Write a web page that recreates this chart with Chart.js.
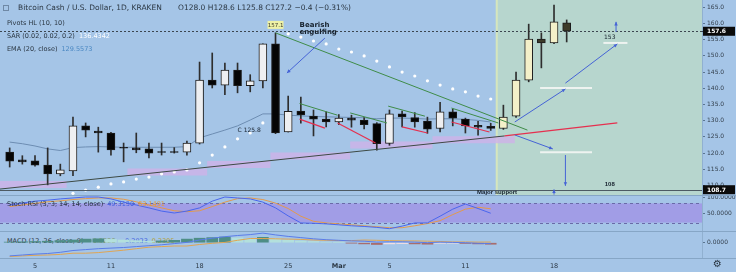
<!DOCTYPE html>
<html>
<head>
<meta charset="utf-8">
<script src="https://cdn.jsdelivr.net/npm/chart.js@4.4.1/dist/chart.umd.min.js"></script>
<style>
  html, body { margin: 0; padding: 0; background: #a5c5e7; }
  #wrap { position: relative; width: 736px; height: 272px; overflow: hidden; background: #a5c5e7; font-family: "DejaVu Sans", sans-serif; }
  canvas { position: absolute; left: 0; z-index: 1; }
  .t { position: absolute; white-space: nowrap; font-size: 6.5px; line-height: 8px; color: #2a3642; z-index: 2; }
  .t span { margin-left: 4px; }
  .sep { position: absolute; left: 0; width: 736px; height: 1px; background: #86a6c6; z-index: 3; }
</style>
</head>
<body>
<div id="wrap">
  <div class="t" style="left:7px;top:237px;z-index:0">MACD (12, 26, close, 9)<span style="color:#7c9a6c">−0.5228</span><span style="color:#4161e0">−0.2923</span><span style="color:#b3a030">0.2305</span></div>
  <canvas id="main" width="736" height="195" style="top:0"></canvas>
  <canvas id="stoch" width="736" height="36" style="top:195px"></canvas>
  <canvas id="macd" width="736" height="41" style="top:231px"></canvas>

  <div style="position:absolute;left:3px;top:5px;width:4px;height:4px;border:1px solid #6f89a6;z-index:2"></div>
  <div class="t" style="left:18px;top:4px;font-size:7.5px">Bitcoin Cash / U.S. Dollar, 1D, KRAKEN</div>
  <div class="t" style="left:178px;top:4px;font-size:7.5px">O128.0 H128.6 L125.8 C127.2 −0.4 (−0.31%)</div>
  <div class="t" style="left:7px;top:19px">Pivots HL (10, 10)</div>
  <div class="t" style="left:7px;top:32px">SAR (0.02, 0.02, 0.2)<span style="color:#ffffff">136.4342</span></div>
  <div class="t" style="left:7px;top:45px">EMA (20, close)<span style="color:#4a88c2">129.5573</span></div>
  <div class="t" style="left:7px;top:200px">Stoch RSI (3, 3, 14, 14, close)<span style="color:#4161e0">49.3130</span><span style="color:#e39a3c">63.1491</span></div>
  <div class="t" style="left:713px;top:258px;font-size:10px;line-height:12px">⚙</div>

  <div class="sep" style="top:195px"></div>
  <div class="sep" style="top:231px"></div>
  <div class="sep" style="top:258px"></div>
</div>
<script>
// daily candles, Feb 3 .. Mar 19
const dates = ['2019-02-03','2019-02-04','2019-02-05','2019-02-06','2019-02-07','2019-02-08','2019-02-09','2019-02-10',
  '2019-02-11','2019-02-12','2019-02-13','2019-02-14','2019-02-15','2019-02-16','2019-02-17','2019-02-18','2019-02-19',
  '2019-02-20','2019-02-21','2019-02-22','2019-02-23','2019-02-24','2019-02-25','2019-02-26','2019-02-27','2019-02-28',
  '2019-03-01','2019-03-02','2019-03-03','2019-03-04','2019-03-05','2019-03-06','2019-03-07','2019-03-08','2019-03-09',
  '2019-03-10','2019-03-11','2019-03-12','2019-03-13','2019-03-14','2019-03-15','2019-03-16','2019-03-17','2019-03-18','2019-03-19'];
const open  = [120.3,117.9,117.6,116.3,113.6,114.5,128.4,126.8,126.2,121.6,121.6,121.3,120.4,120.3,120.3,123.1,142.5,141.0,145.6,140.8,142.3,153.7,126.5,133.0,131.4,130.5,129.6,130.8,130.2,129.1,123.0,132.1,131.0,129.9,127.6,132.7,130.5,128.6,128.3,127.6,131.4,142.5,155.2,154.0,160.2];
const high  = [121.6,119.2,119.2,121.6,116.6,131.1,129.3,128.0,126.4,123.1,126.2,123.1,123.1,121.7,123.7,148.1,150.9,147.8,147.8,144.2,153.7,157.1,137.6,137.3,133.3,132.7,131.9,131.7,131.0,129.4,133.3,133.0,132.5,131.1,135.7,133.6,130.8,129.8,129.2,134.8,145.0,159.8,157.1,165.7,161.1];
const low   = [115.7,116.6,116.0,110.2,113.0,113.0,125.0,120.3,119.4,117.3,120.1,118.5,119.4,120.0,119.4,122.8,140.1,138.0,138.6,138.9,140.1,126.0,126.5,129.2,125.3,128.1,128.8,128.0,127.5,120.9,122.4,128.1,128.0,126.1,126.5,128.4,126.2,125.5,127.0,127.3,131.0,142.0,146.3,153.8,154.3];
const close = [117.5,117.3,116.3,113.6,114.8,128.4,127.1,126.2,121.0,121.5,121.0,120.0,120.2,120.2,123.1,142.5,141.0,145.6,140.8,142.3,153.7,126.2,132.9,131.8,130.5,129.6,130.8,130.2,128.8,122.9,132.1,131.2,129.6,127.4,132.7,130.8,128.4,128.0,127.6,131.1,142.5,155.2,154.0,160.5,157.6];

// indicators (end on Mar 13)
const sar = [null,null,null,null,null,107.6,108.6,109.5,110.5,111.1,112.0,112.6,113.6,114.2,114.8,117.0,119.4,121.9,124.4,126.2,129.3,null,156.8,155.8,154.6,153.7,152.1,151.2,150.0,148.4,146.6,145.0,143.8,142.3,141.0,139.8,138.9,137.6,136.7];
const ema = [123.4,122.9,122.2,121.3,120.8,121.7,121.9,122.0,121.9,121.8,121.8,121.8,121.8,121.8,122.0,124.7,125.9,127.1,128.4,130.2,132.1,132.1,131.7,131.5,131.3,131.2,131.1,131.0,130.9,130.6,130.8,130.8,130.7,130.5,130.6,130.6,130.4,130.1,129.6];
const stochK = [75,81,87,90,94,97,100,100,94,84,75,66,56,50,56,66,87,100,97,94,84,66,41,19,18,16,13,10,8,5,1,9,19,19,40,62,78,64,49.3];
const stochD = [70,75,80,85,88,92,95,97,97,93,85,75,66,57,54,57,70,84,95,97,92,81,64,40,24,19,16,13,10,7,4,4,10,17,26,45,62,68,63.1];
const macd   = [-4.4,-4.1,-3.8,-3.6,-3.2,-2.6,-2.3,-2.0,-1.8,-1.6,-1.3,-1.0,-0.7,-0.3,0.1,0.9,1.5,2.0,2.4,2.7,3.2,2.6,2.1,1.7,1.3,1.0,0.8,0.6,0.5,0.2,0.3,0.3,0.2,0.0,0.2,0.1,0.0,-0.2,-0.29];
const signal = [-4.6,-4.4,-4.2,-4.1,-3.9,-3.5,-3.5,-3.3,-2.9,-2.5,-2.0,-1.5,-1.3,-1.1,-1.1,-0.6,-0.2,0.1,0.8,1.4,1.4,1.3,1.2,1.1,0.9,0.8,0.7,0.7,0.9,0.8,0.7,0.6,0.6,0.5,0.4,0.25,0.25,0.2,0.23];
const hist   = [0.2,0.3,0.4,0.5,0.7,0.9,1.2,1.3,1.1,0.9,0.7,0.5,0.6,0.8,1.2,1.5,1.7,1.9,1.6,1.3,1.8,1.3,0.9,0.6,0.4,0.2,0.1,-0.1,-0.4,-0.6,-0.4,-0.3,-0.4,-0.5,-0.2,-0.15,-0.25,-0.4,-0.52];

// pivot lows band: [fromDay, toDay, price]
const pivotBands = [[-2.77,2.5,110.3],[7.3,13.6,114.2],[13.6,18.6,116.5],[18.6,24.9,119.1],[24.9,31.4,122.5],[31.4,37.9,124.1]];

// axes
const priceTicks = [110,115,120,125,130,135,140,145,150,155,160,165];
const stochTicks = [50,100];
const macdTicks = [0];
const tickDates = ['2019-02-05','2019-02-11','2019-02-18','2019-02-25','2019-03-01','2019-03-05','2019-03-11','2019-03-18'];
const tickLabels = ['5','11','18','25','Mar','5','11','18'];
const lastPrice = 157.6, supportPrice = 108.7;

// drawings, in day (from Feb 5) / price units
const greenLines = [[19,157.1,38.9,127.1],[20.9,135.3,23.9,131.7],[24.9,132.4,27.8,129.3],[27.9,134.5,30.8,131.4],[32.9,133.9,36.6,129.3]];
const redLines = [[20.9,130.5,22.9,127.7],[23.9,129.3,26.9,123.1],[29.0,128.1,31.0,126.2],[32.9,129.6,35.9,126.5],[37.1,125.3,46.0,129.3]];
const supportTrend = [[-2.77,108.9,37.1,125.3]];
const blueArrows = [[22.9,155.5,19.9,144.7],[37.9,129.6,41.9,139.8],[41.9,141.6,46.0,153.7],[45.9,157.4,45.9,160.5],
  [37.9,125.6,40.9,121.3],[41.9,119.4,41.9,109.9],[41.0,107.2,41.0,108.8]];
const whiteLevels = [[39.9,44.0,140.1],[44.9,46.8,154.0],[39.9,44.0,120.3]];
const zoneStart = 36.4;

const DAY0 = Date.parse('2019-02-05');
const toDay = s => (Date.parse(s) - DAY0) / 864e5;
const xs = dates.map(toDay);
const tickDays = tickDates.map(toDay);
const X_MIN = -2.765, X_MAX = 52.69;

Chart.defaults.font.family = "'DejaVu Sans', sans-serif";
Chart.defaults.font.size = 6;
Chart.defaults.animation = false;
Chart.defaults.plugins.legend.display = false;
Chart.defaults.plugins.tooltip.enabled = false;

const bull = close.map((c, i) => c >= open[i]);
const bodyFill = xs.map((x, i) => x >= zoneStart ? (bull[i] ? '#f4f0c9' : '#3d3b29') : (bull[i] ? '#eeeff1' : '#050505'));

const xAxis = show => ({
  type: 'linear', min: X_MIN, max: X_MAX, display: show, offset: false,
  afterFit(s) { s.height = show ? 14 : 0; s.paddingLeft = 0; s.paddingRight = 0; },
  afterBuildTicks(s) { s.ticks = tickDays.map(v => ({ value: v })); },
  ticks: {
    autoSkip: false, maxRotation: 0, padding: 4, color: '#2a3642',
    font: c => ({ size: 6.5, weight: c.tick && c.tick.label === 'Mar' ? 'bold' : 'normal' }),
    callback: v => tickLabels[tickDays.indexOf(v)]
  },
  grid: { display: false, drawTicks: false, offset: false }, border: { display: false }
});

const yAxis = (min, max, ticks, dec) => ({
  position: 'right', min, max,
  afterFit(s) { s.width = 34; s.paddingTop = 0; s.paddingBottom = 0; },
  afterBuildTicks(s) { s.ticks = ticks.map(v => ({ value: v })); },
  ticks: { autoSkip: false, color: '#34414e', padding: 2, callback: v => Number(v).toFixed(dec) },
  grid: { drawOnChartArea: false, tickLength: 3, color: '#5a7590' },
  border: { color: '#90b0d0' }
});

const baseOptions = { responsive: false, layout: { padding: 0, autoPadding: false } };

function seg(ctx, x, y, a) {
  ctx.beginPath();
  ctx.moveTo(x.getPixelForValue(a[0]), y.getPixelForValue(a[1]));
  ctx.lineTo(x.getPixelForValue(a[2]), y.getPixelForValue(a[3]));
  ctx.stroke();
}

function priceBox(ctx, area, y, price, canvasW) {
  const py = y.getPixelForValue(price);
  ctx.fillStyle = '#0b0b0b';
  ctx.fillRect(area.right + 1, py - 4.5, canvasW - area.right - 2, 9);
  ctx.fillStyle = '#ffffff';
  ctx.font = 'bold 6px "DejaVu Sans"';
  ctx.textAlign = 'left'; ctx.textBaseline = 'middle';
  ctx.fillText(price.toFixed(1), area.right + 5, py + 0.5);
}

const drawings = {
  id: 'drawings',
  beforeDatasetsDraw(chart) {
    const { ctx, chartArea: a, scales: { x, y } } = chart;
    const z = x.getPixelForValue(zoneStart);
    ctx.save();
    ctx.fillStyle = '#b7d6ce';
    ctx.fillRect(z, a.top, a.right - z, a.bottom - a.top);
    ctx.fillStyle = '#d6e6bd';
    ctx.fillRect(z, a.top, 2, a.bottom - a.top);
    const lp = Math.round(y.getPixelForValue(lastPrice)) + 0.5;
    ctx.strokeStyle = '#3c4650'; ctx.lineWidth = 1; ctx.setLineDash([2, 2]);
    ctx.beginPath(); ctx.moveTo(a.left, lp); ctx.lineTo(a.right, lp); ctx.stroke();
    ctx.restore();
  },
  afterDatasetsDraw(chart) {
    const { ctx, chartArea: a, scales: { x, y } } = chart;
    ctx.save();
    ctx.beginPath(); ctx.rect(a.left, a.top, a.right - a.left, a.bottom - a.top); ctx.clip();
    ctx.lineWidth = 1;
    const sp = Math.round(y.getPixelForValue(supportPrice)) + 0.5;
    ctx.strokeStyle = '#4d5a63';
    ctx.beginPath(); ctx.moveTo(a.left, sp); ctx.lineTo(a.right, sp); ctx.stroke();
    ctx.strokeStyle = '#3d4a44'; supportTrend.forEach(s => seg(ctx, x, y, s));
    ctx.strokeStyle = '#3f8c48'; greenLines.forEach(s => seg(ctx, x, y, s));
    ctx.strokeStyle = '#e5304f'; ctx.lineWidth = 1.2; redLines.forEach(s => seg(ctx, x, y, s));
    ctx.strokeStyle = '#eef3f0'; ctx.lineWidth = 2;
    whiteLevels.forEach(w => {
      const py = y.getPixelForValue(w[2]);
      ctx.beginPath(); ctx.moveTo(x.getPixelForValue(w[0]), py); ctx.lineTo(x.getPixelForValue(w[1]), py); ctx.stroke();
    });
    ctx.strokeStyle = '#4563d6'; ctx.fillStyle = '#4563d6'; ctx.lineWidth = 1;
    blueArrows.forEach(s => {
      const x1 = x.getPixelForValue(s[0]), y1 = y.getPixelForValue(s[1]);
      const x2 = x.getPixelForValue(s[2]), y2 = y.getPixelForValue(s[3]);
      ctx.beginPath(); ctx.moveTo(x1, y1); ctx.lineTo(x2, y2); ctx.stroke();
      const ang = Math.atan2(y2 - y1, x2 - x1), h = 4;
      ctx.beginPath();
      ctx.moveTo(x2, y2);
      ctx.lineTo(x2 - h * Math.cos(ang - 0.45), y2 - h * Math.sin(ang - 0.45));
      ctx.lineTo(x2 - h * Math.cos(ang + 0.45), y2 - h * Math.sin(ang + 0.45));
      ctx.closePath(); ctx.fill();
    });

    // texts
    ctx.textBaseline = 'middle';
    ctx.fillStyle = '#17222e';
    ctx.font = 'bold 7px "DejaVu Sans"'; ctx.textAlign = 'left';
    ctx.fillText('Bearish', x.getPixelForValue(20.9), y.getPixelForValue(159.6));
    ctx.fillText('engulfing', x.getPixelForValue(20.9), y.getPixelForValue(157.4));
    ctx.font = '6px "DejaVu Sans"';
    ctx.fillText('C 125.8', x.getPixelForValue(16.0), y.getPixelForValue(127.1));
    ctx.textAlign = 'center';
    ctx.fillText('153', x.getPixelForValue(45.4), y.getPixelForValue(155.8));
    ctx.font = 'bold 6px "Liberation Sans"';
    ctx.fillText('108', x.getPixelForValue(45.4), y.getPixelForValue(110.5));
    ctx.fillText('Major support', x.getPixelForValue(36.5), y.getPixelForValue(107.95));

    // high label on the engulfing candle
    const hx = x.getPixelForValue(19), hy = y.getPixelForValue(157.1) - 8;
    ctx.fillStyle = '#eef2a6';
    ctx.fillRect(hx - 8, hy - 4, 16, 8);
    ctx.fillStyle = '#3a3a2a';
    ctx.font = '5.5px "DejaVu Sans"';
    ctx.fillText('157.1', hx, hy + 0.5);
    ctx.restore();
  },
  afterDraw(chart) {
    const { ctx, chartArea: a, scales: { y } } = chart;
    ctx.save();
    const lp = Math.round(y.getPixelForValue(lastPrice)) + 0.5;
    ctx.strokeStyle = '#3c4650'; ctx.setLineDash([2, 2]);
    ctx.beginPath(); ctx.moveTo(a.right, lp); ctx.lineTo(a.right + 2, lp); ctx.stroke();
    ctx.setLineDash([]);
    priceBox(ctx, a, y, lastPrice, chart.width);
    priceBox(ctx, a, y, supportPrice, chart.width);
    ctx.restore();
  }
};

new Chart(document.getElementById('main'), {
  type: 'bar',
  data: {
    datasets: [
      { type: 'line', order: 1, data: xs.map((x, i) => ({ x, y: sar[i] ?? null })), showLine: false,
        pointRadius: 1.6, pointBackgroundColor: '#ffffff', pointBorderWidth: 0 },
      { order: 2, data: xs.map((x, i) => ({ x, y: [open[i], close[i]] })), backgroundColor: bodyFill,
        borderColor: '#1c1c1c', borderWidth: 1, borderSkipped: false, barThickness: 8, minBarLength: 1, grouped: false },
      { order: 3, data: xs.map((x, i) => ({ x, y: [low[i], high[i]] })), backgroundColor: '#2e2e2e',
        barThickness: 1, grouped: false },
      { type: 'line', order: 5, data: xs.map((x, i) => ({ x, y: ema[i] ?? null })), borderColor: '#6d8db2',
        borderWidth: 1, pointRadius: 0, spanGaps: false },
      { type: 'line', order: 6, data: pivotBands.flatMap(b => [{ x: b[0], y: b[2] }, { x: b[1], y: b[2] }, { x: b[1], y: null }]),
        borderColor: 'rgba(206,178,232,0.8)', borderWidth: 7, borderCapStyle: 'butt', pointRadius: 0, spanGaps: false }
    ]
  },
  options: { ...baseOptions, scales: { x: xAxis(false), y: yAxis(107.07, 167.25, priceTicks, 1) } },
  plugins: [drawings]
});

const stochBand = [20, 80];
const bandPlugin = {
  id: 'band',
  beforeDatasetsDraw(chart) {
    const { ctx, chartArea: a, scales: { y } } = chart;
    const y1 = y.getPixelForValue(stochBand[1]), y0 = y.getPixelForValue(stochBand[0]);
    ctx.save();
    ctx.fillStyle = '#a19de6';
    ctx.fillRect(a.left, y1, a.right - a.left, y0 - y1);
    ctx.strokeStyle = '#6a6aa8'; ctx.setLineDash([3, 3]); ctx.lineWidth = 1;
    [y1, y0].forEach(p => { ctx.beginPath(); ctx.moveTo(a.left, Math.round(p) + 0.5); ctx.lineTo(a.right, Math.round(p) + 0.5); ctx.stroke(); });
    ctx.restore();
  }
};

new Chart(document.getElementById('stoch'), {
  type: 'line',
  data: {
    datasets: [
      { data: xs.map((x, i) => ({ x, y: stochK[i] ?? null })), borderColor: '#4a66ee', borderWidth: 1, pointRadius: 0 },
      { data: xs.map((x, i) => ({ x, y: stochD[i] ?? null })), borderColor: '#e39a4c', borderWidth: 1, pointRadius: 0 }
    ]
  },
  options: { ...baseOptions, scales: { x: xAxis(false), y: yAxis(-6.25, 106.25, stochTicks, 4) } },
  plugins: [bandPlugin]
});

const histColor = hist.map((h, i) => {
  const prev = i > 0 ? hist[i - 1] : h;
  if (h >= 0) return h >= prev ? '#4e8e86' : '#b3e0dc';
  return h <= prev ? '#a86d6d' : '#f2dde0';
});

new Chart(document.getElementById('macd'), {
  type: 'bar',
  data: {
    datasets: [
      { type: 'line', order: 1, data: xs.map((x, i) => ({ x, y: macd[i] ?? null })), borderColor: '#5a7ce8', borderWidth: 1, pointRadius: 0 },
      { type: 'line', order: 2, data: xs.map((x, i) => ({ x, y: signal[i] ?? null })), borderColor: '#e0a552', borderWidth: 1, pointRadius: 0 },
      { order: 3, data: xs.slice(0, hist.length).map((x, i) => ({ x, y: hist[i] })), backgroundColor: histColor,
        barThickness: 11, grouped: false }
    ]
  },
  options: { ...baseOptions, scales: { x: xAxis(true), y: yAxis(-5.1, 3.9, macdTicks, 4) } }
});
</script>
</body>
</html>
